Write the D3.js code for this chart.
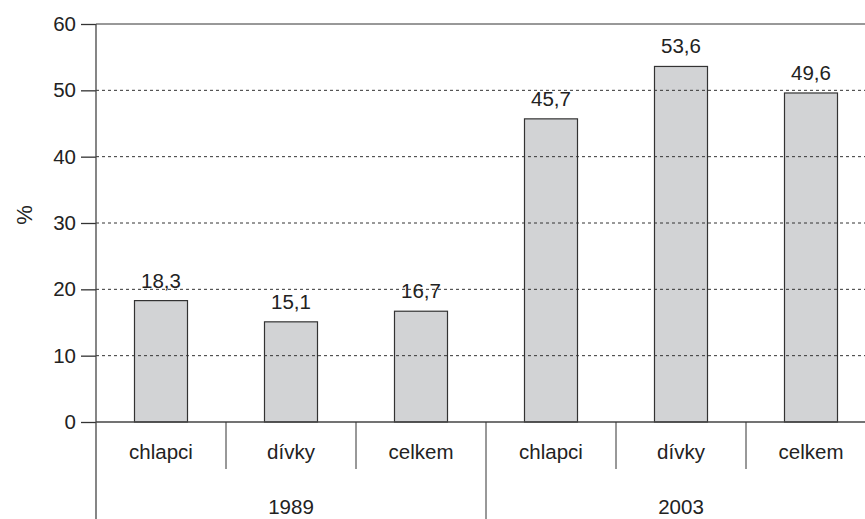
<!DOCTYPE html>
<html>
<head>
<meta charset="utf-8">
<script src="https://cdn.jsdelivr.net/npm/d3@7"></script>
<style>
  body { margin: 0; background: #fff; }
  svg text { font-family: "Liberation Sans", Arial, sans-serif; fill: #222; }
</style>
</head>
<body>
<div id="chart"></div>
<script>
// data
var years = ["1989", "2003"];
var groups = ["chlapci", "dívky", "celkem"];
var values = [18.3, 15.1, 16.7, 45.7, 53.6, 49.6];
var yTicks = [0, 10, 20, 30, 40, 50, 60];

var W = 865, H = 519,
    margin = {top: 24, left: 96, bottom: 97},
    bandW = 130,
    height = H - margin.top - margin.bottom,
    fs = "20.5px";

var svg = d3.select("#chart").append("svg")
    .attr("width", W).attr("height", H);

var cats = [];
years.forEach(function(yr) {
  groups.forEach(function(g) { cats.push(yr + "|" + g); });
});
var data = cats.map(function(c, i) {
  return {key: c, year: c.split("|")[0], group: c.split("|")[1], value: values[i]};
});

var x = d3.scaleBand()
    .domain(cats)
    .range([margin.left, margin.left + bandW * cats.length])
    .paddingInner(0).paddingOuter(0);

var y = d3.scaleLinear()
    .domain([0, 60])
    .range([margin.top + height, margin.top]);

var barW = 53;

// bars
svg.append("g").selectAll("rect")
    .data(data)
  .enter().append("rect")
    .attr("x", function(d) { return x(d.key) + x.bandwidth() / 2 - barW / 2; })
    .attr("y", function(d) { return y(d.value); })
    .attr("width", barW)
    .attr("height", function(d) { return y(0) - y(d.value); })
    .attr("fill", "#d2d3d5")
    .attr("stroke", "#333")
    .attr("stroke-width", 1.2);

// gridlines (drawn over the bars)
svg.append("g").selectAll("line")
    .data(yTicks.filter(function(t) { return t > 0; }))
  .enter().append("line")
    .attr("x1", margin.left).attr("x2", W)
    .attr("y1", function(d) { return y(d); })
    .attr("y2", function(d) { return y(d); })
    .attr("stroke", "#333")
    .attr("stroke-width", 1)
    .attr("stroke-dasharray", function(d) { return d === 60 ? null : "3,3"; });

// y axis
var yAxis = d3.axisLeft(y).tickValues(yTicks).tickSize(15).tickSizeOuter(0).tickPadding(5);
var ya = svg.append("g")
    .attr("transform", "translate(" + margin.left + ",0)")
    .call(yAxis);
ya.select(".domain").remove();
ya.selectAll(".tick line").attr("stroke", "#333").attr("stroke-width", 1.3);
ya.selectAll(".tick text").style("font-size", fs).attr("fill", "#222");

svg.append("line")
    .attr("x1", margin.left).attr("x2", margin.left)
    .attr("y1", margin.top).attr("y2", H)
    .attr("stroke", "#444").attr("stroke-width", 1.3);

// x axis baseline
svg.append("line")
    .attr("x1", margin.left).attr("x2", W)
    .attr("y1", y(0)).attr("y2", y(0))
    .attr("stroke", "#444").attr("stroke-width", 1.3);

// category separators
svg.append("g").selectAll("line")
    .data(cats.slice(1))
  .enter().append("line")
    .attr("x1", function(d) { return x(d); })
    .attr("x2", function(d) { return x(d); })
    .attr("y1", y(0))
    .attr("y2", function(d) { return d.split("|")[1] === groups[0] ? H : y(0) + 47; })
    .attr("stroke", "#333").attr("stroke-width", 1);

// category labels
svg.append("g").selectAll("text")
    .data(data)
  .enter().append("text")
    .attr("x", function(d) { return x(d.key) + x.bandwidth() / 2; })
    .attr("y", y(0) + 37)
    .attr("text-anchor", "middle")
    .style("font-size", fs)
    .text(function(d) { return d.group; });

// year labels
svg.append("g").selectAll("text")
    .data(years)
  .enter().append("text")
    .attr("x", function(d) {
      return x(d + "|" + groups[0]) + x.bandwidth() * groups.length / 2;
    })
    .attr("y", 514)
    .attr("text-anchor", "middle")
    .style("font-size", fs)
    .text(function(d) { return d; });

// value labels
svg.append("g").selectAll("text")
    .data(data)
  .enter().append("text")
    .attr("x", function(d) { return x(d.key) + x.bandwidth() / 2; })
    .attr("y", function(d) { return y(d.value) - 13; })
    .attr("text-anchor", "middle")
    .style("font-size", fs)
    .text(function(d) { return String(d.value).replace(".", ","); });

// y axis title
svg.append("text")
    .attr("transform", "translate(32," + 215 + ") rotate(-90)")
    .attr("text-anchor", "middle")
    .style("font-size", "22px")
    .text("%");
</script>
</body>
</html>
